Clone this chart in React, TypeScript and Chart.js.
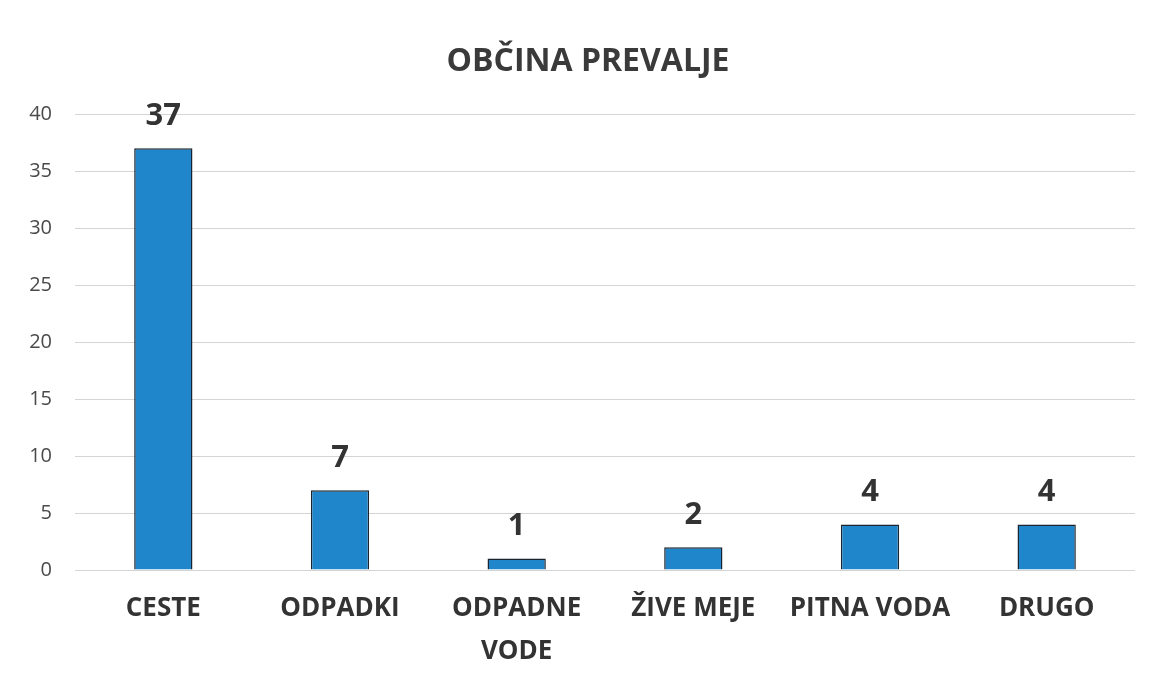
import React, { useEffect, useRef } from "react";
import { Chart, registerables } from "chart.js";

Chart.register(...registerables);

const TITLE = "OBČINA PREVALJE";
const categories: (string | string[])[] = ["CESTE", "ODPADKI", ["ODPADNE", "VODE"], "ŽIVE MEJE", "PITNA VODA", "DRUGO"];
const values = [37, 7, 1, 2, 4, 4];
const yTicks = [0, 5, 10, 15, 20, 25, 30, 35, 40];

const FONT = "'Open Sans', 'Noto Sans', sans-serif";

const valueLabels = {
  id: "valueLabels",
  afterDatasetsDraw(chart: any) {
    const ctx = chart.ctx;
    const meta = chart.getDatasetMeta(0);
    ctx.save();
    ctx.font = `bold 31px ${FONT}`;
    ctx.fillStyle = "#333333";
    ctx.textAlign = "center";
    ctx.textBaseline = "bottom";
    meta.data.forEach((bar: any, i: number) => {
      ctx.fillText(String(values[i]), bar.x, bar.y - 17);
    });
    ctx.restore();
  },
};

const centeredTitle = {
  id: "centeredTitle",
  afterDraw(chart: any) {
    const ctx = chart.ctx;
    const { left, right } = chart.chartArea;
    ctx.save();
    ctx.font = `bold 32px ${FONT}`;
    ctx.fillStyle = "#3a3a3a";
    ctx.textAlign = "center";
    ctx.textBaseline = "middle";
    ctx.fillText(TITLE, (left + right) / 2 - 17, 62);
    ctx.restore();
  },
};

export default function App() {
  const ref = useRef<HTMLCanvasElement>(null);
  useEffect(() => {
    document.body.style.margin = "0";
    const chart = new Chart(ref.current!, {
      type: "bar",
      data: {
        labels: categories,
        datasets: [
          {
            data: values,
            backgroundColor: "#1f86cc",
            borderColor: "#1b2530",
            borderWidth: 1.5,
            barPercentage: 0.33,
            categoryPercentage: 1,
          },
        ],
      },
      options: {
        animation: false,
        responsive: false,
        maintainAspectRatio: false,
        layout: { padding: { left: 0, right: 16, top: 114, bottom: 0 } },
        plugins: {
          legend: { display: false },
          tooltip: { enabled: false },
          title: { display: false },
        },
        scales: {
          x: {
            grid: { display: false, drawTicks: false },
            border: { display: false },
            ticks: {
              color: "#333333",
              font: { family: FONT, size: 26, weight: "bold", lineHeight: 1.62 },
              padding: 18,
              maxRotation: 0,
              autoSkip: false,
            },
            afterFit(scale: any) {
              scale.height = 112;
            },
          },
          y: {
            min: 0,
            max: 40,
            afterBuildTicks(scale: any) {
              scale.ticks = yTicks.map((v) => ({ value: v }));
            },
            grid: { color: "#d4d4d4", drawTicks: false, lineWidth: 1 },
            border: { display: false },
            ticks: {
              color: "#4a4a4a",
              font: { family: FONT, size: 20 },
              padding: 23,
            },
            afterFit(scale: any) {
              scale.width = 75;
            },
          },
        },
      },
      plugins: [valueLabels, centeredTitle],
    });
    return () => chart.destroy();
  }, []);
  return (
    <div style={{ width: 1151, height: 682, background: "#ffffff" }}>
      <canvas ref={ref} width={1151} height={682} />
    </div>
  );
}
